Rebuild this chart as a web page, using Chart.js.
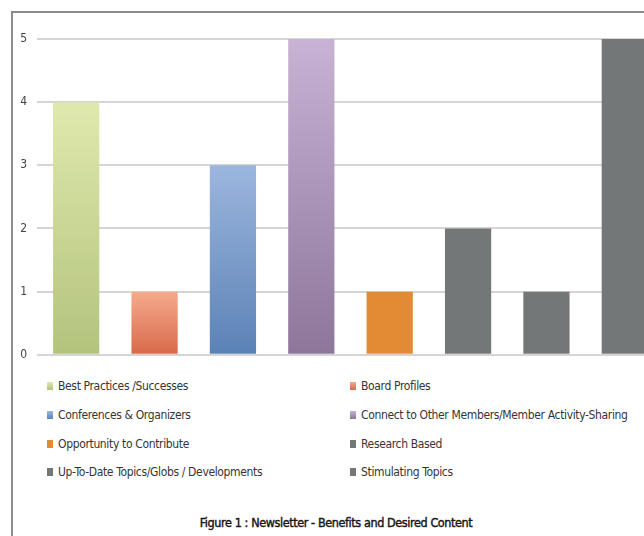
<!DOCTYPE html>
<html>
<head>
<meta charset="utf-8">
<script src="https://cdn.jsdelivr.net/npm/chart.js@4/dist/chart.umd.min.js"></script>
<style>
  html, body { margin: 0; padding: 0; background: #fff; overflow: hidden; }
  body { width: 644px; height: 536px; position: relative; }
  #frame { position: absolute; left: 11px; top: 11px; width: 720px; height: 620px;
           border: 2px solid #8c8c8c; box-sizing: border-box; }
  #chartBox { position: absolute; left: 0; top: 0; width: 664px; height: 372px; }
  #legend { position: absolute; left: 47px; top: 372px; display: grid;
            grid-template-columns: 303px 300px; grid-auto-rows: 28.7px;
            font-family: "DejaVu Sans Condensed", "DejaVu Sans", sans-serif;
            font-size: 12px; letter-spacing: -0.35px; color: #353535; }
  #legend div { display: flex; align-items: center; white-space: nowrap; }
  #legend span.box { flex-shrink: 0; width: 6px; height: 8px; margin-right: 5px; display: inline-block; }
  #title { position: absolute; left: 0; width: 672px; top: 515px; text-align: center;
           font-family: "DejaVu Sans Condensed", "DejaVu Sans", sans-serif;
           font-size: 12.5px; letter-spacing: -0.4px; color: #161616;
           -webkit-text-stroke: 0.4px #161616; }
</style>
</head>
<body>
<div id="frame"></div>
<div id="chartBox"><canvas id="chart"></canvas></div>
<div id="legend"></div>
<div id="title">Figure 1 : Newsletter - Benefits and Desired Content</div>
<script>
// datos del gráfico
const categories = [
  'Best Practices /Successes',
  'Board Profiles',
  'Conferences & Organizers',
  'Connect to Other Members/Member Activity-Sharing',
  'Opportunity to Contribute',
  'Research Based',
  'Up-To-Date Topics/Globs / Developments',
  'Stimulating Topics'
];
const values = [4, 1, 3, 5, 1, 2, 1, 5];
const yTicks = [0, 1, 2, 3, 4, 5];

// colores (arriba, abajo) de cada barra
const topColors = ['#dfe9ad', '#f5ab8c', '#9cb6de', '#c8b3d5', '#e38b32', '#747778', '#747778', '#747778'];
const bottomColors = ['#b3c37c', '#d8694a', '#5b82b6', '#8d7699', '#e38b32', '#747778', '#747778', '#747778'];

function barFill(ctx){
  const chart = ctx.chart;
  const i = ctx.dataIndex;
  if (!chart.chartArea || i === undefined) return bottomColors[i] || '#888';
  const y = chart.scales.y;
  const top = y.getPixelForValue(values[i]);
  const bottom = y.getPixelForValue(0);
  const g = chart.ctx.createLinearGradient(0, top, 0, bottom);
  g.addColorStop(0, topColors[i]);
  g.addColorStop(1, bottomColors[i]);
  return g;
}

new Chart(document.getElementById('chart'), {
  type: 'bar',
  data: {
    labels: categories,
    datasets: [{
      data: values,
      backgroundColor: barFill,
      borderWidth: 0,
      categoryPercentage: 1,
      barPercentage: 0.59
    }]
  },
  options: {
    responsive: true,
    maintainAspectRatio: false,
    animation: false,
    layout: { padding: { top: 39, right: 0, left: 0, bottom: 0 } },
    plugins: { legend: { display: false }, tooltip: { enabled: false } },
    scales: {
      x: { display: false, grid: { display: false } },
      y: {
        min: 0, max: 5,
        afterFit: s => { s.width = 37; },
        afterBuildTicks: s => { s.ticks = yTicks.map(v => ({ value: v })); },
        border: { display: false },
        grid: { color: '#d5d5d5', lineWidth: 2, drawTicks: false },
        ticks: { padding: 10, color: '#444', font: { family: 'DejaVu Sans Condensed', size: 12 } }
      }
    }
  }
});

// leyenda en dos columnas
const legend = document.getElementById('legend');
categories.forEach((c, i) => {
  const d = document.createElement('div');
  d.innerHTML = `<span class="box" style="background:linear-gradient(${topColors[i]},${bottomColors[i]})"></span>${c.replace('&', '&amp;')}`;
  legend.appendChild(d);
});
</script>
</body>
</html>
